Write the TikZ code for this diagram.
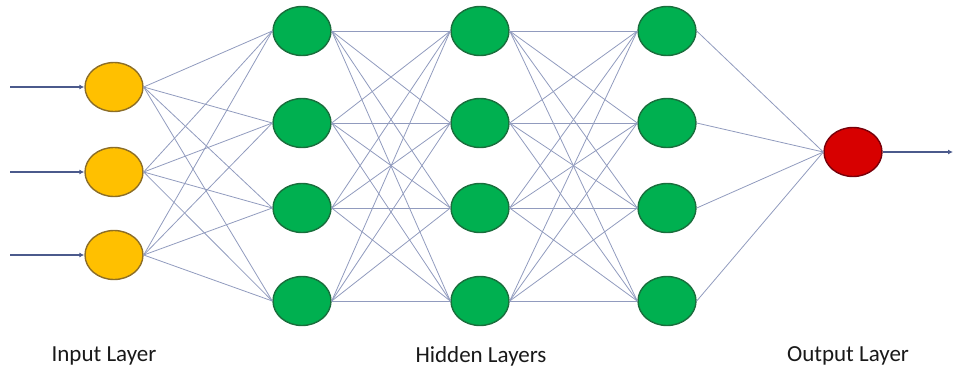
\documentclass[tikz,border=0pt]{standalone}
\usepackage{fontspec}
\setmainfont{Carlito}
\usepackage{xcolor}
\usetikzlibrary{shapes.geometric,arrows.meta}
\definecolor{jaune}{RGB}{255,192,0}
\definecolor{jauneFonce}{RGB}{140,110,40}
\definecolor{vert}{RGB}{0,176,80}
\definecolor{vertFonce}{RGB}{25,110,60}
\definecolor{rouge}{RGB}{215,0,0}
\definecolor{rougeFonce}{RGB}{120,0,10}
\definecolor{lien}{RGB}{145,155,190}
\definecolor{fleche}{RGB}{75,90,140}
\tikzset{
Neurone/.style={
 ellipse,
 line width=1.4pt,
 minimum width=58pt,
 minimum height=49pt,
 inner sep=0pt
 },
Entree/.style={Neurone, fill=jaune, draw=jauneFonce},
Cachee/.style={Neurone, fill=vert, draw=vertFonce},
Sortie/.style={Neurone, fill=rouge, draw=rougeFonce},
Lien/.style={draw=lien, line width=0.8pt},
DFleche/.style={
 draw=fleche,
 line width=1.4pt,
 -{Latex[length=5pt,width=5pt]}
 },
Titre/.style={font=\fontsize{23}{27}\selectfont, text=black!90}
}
\begin{document}
\begin{tikzpicture}[x=1pt,y=-1pt]
\useasboundingbox (0,0) rectangle (953,370);
% couche d'entree
\foreach \y/\r in {87/1,172/2,255/3} {
 \node[Entree] (e\r) at (114,\y) {};
 \coordinate (x\r) at (10,\y);
 \draw[DFleche] (x\r) -- (e\r.west);
}
% couches cachees
\foreach \x/\c in {302/1,480/2,667/3}
 \foreach \y/\r in {31/1,123/2,208/3,301/4}
  \node[Cachee] (c\c\r) at (\x,\y) {};
% couche de sortie
\node[Sortie] (s) at (853,152) {};
\coordinate (z) at (953,152);
\draw[DFleche] (s.east) -- (z);
% liens
\foreach \i in {1,2,3}
 \foreach \j in {1,...,4}
  \draw[Lien] (e\i.east) -- (c1\j.west);
\foreach \a/\b in {1/2,2/3}
 \foreach \i in {1,...,4}
  \foreach \j in {1,...,4}
   \draw[Lien] (c\a\i.east) -- (c\b\j.west);
\foreach \i in {1,...,4}
 \draw[Lien] (c3\i.east) -- (s.west);
% titres
\node[Titre] (t1) at (104,356) {Input Layer};
\node[Titre] (t2) at (481,356) {Hidden Layers};
\node[Titre] (t3) at (848,356) {Output Layer};
\end{tikzpicture}
\end{document}
